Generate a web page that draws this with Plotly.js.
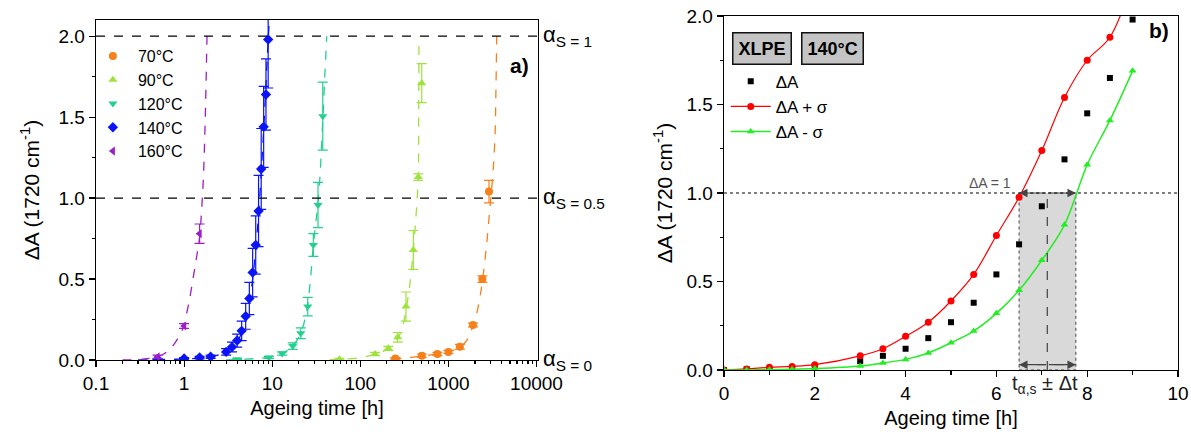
<!DOCTYPE html>
<html><head><meta charset="utf-8">
<script src="https://cdn.plot.ly/plotly-3.0.1.min.js"></script>
<style>html,body{margin:0;padding:0;background:#fff}#chart{width:1191px;height:436px}</style>
</head><body><div id="chart"></div>
<script>
// ---------- Panel a) : ΔA vs ageing time (log), five temperatures ----------
const labels = ['70°C','90°C','120°C','140°C','160°C'];
const t70 = [250,500,750,1000,1350,1900,2430,2890];
const a70 = [0.01,0.027,0.037,0.05,0.082,0.216,0.5,1.04];
const e70 = [0.005,0.01,0.01,0.01,0.015,0.012,0.02,0.07];
const t90 = [58,147,208,266,330,400,455,498];
const a90 = [0.005,0.037,0.072,0.14,0.33,0.68,1.13,1.71];
const e90 = [0.005,0.01,0.012,0.03,0.09,0.12,0.02,0.12];
const t120 = [4,9.2,13,17.1,21.1,25.3,29.3,33.1,37.5];
const a120 = [0.005,0.016,0.04,0.086,0.165,0.33,0.71,0.957,1.506];
const e120 = [0.004,0.006,0.01,0.02,0.033,0.057,0.07,0.14,0.21];
const t140 = [0.5,1,1.5,2,3,3.5,4,4.5,5,5.5,6,6.5,7,7.5,8,8.5,9];
const a140 = [0.004,0.01,0.015,0.02,0.05,0.08,0.12,0.18,0.27,0.38,0.54,0.71,0.92,1.18,1.44,1.64,1.98];
const e140 = [0.003,0.005,0.008,0.01,0.02,0.03,0.04,0.06,0.08,0.1,0.15,0.18,0.22,0.25,0.25,0.22,0.3];
const t160 = [0.5,1,1.5];
const a160 = [0.02,0.21,0.78];
const e160 = [0.01,0.015,0.06];

// fitted (dashed) curves
const f70t = [230,300,400,500,600,750,900,1000,1200,1350,1500,1700,1900,2100,2300,2450,2700,2950,3200,3380,3460,3535];
const f70a = [0.005,0.01,0.018,0.025,0.03,0.037,0.045,0.05,0.065,0.082,0.1,0.14,0.21,0.29,0.4,0.5,0.7,0.93,1.15,1.38,1.65,2.0];
const f90t = [45,60,100,150,210,270,300,330,360,400,430,455,460,463];
const f90a = [0.002,0.005,0.015,0.037,0.072,0.14,0.2,0.31,0.44,0.68,0.9,1.13,1.5,2.0];
const f120t = [3,5,7,9,11,13,15,17,19,21,23,25,27,29,31,33,35,37.5,39.5,41.6];
const f120a = [0,0.005,0.01,0.016,0.025,0.04,0.06,0.086,0.12,0.165,0.23,0.32,0.48,0.68,0.83,0.96,1.15,1.48,1.75,2.0];
const f140t = [0.3,0.5,0.7,1,1.5,2,2.5,3,3.5,4,4.5,5,5.5,6,6.5,7,7.5,8,8.5,9,9.3];
const f140a = [0,0.002,0.004,0.006,0.012,0.02,0.033,0.05,0.075,0.11,0.17,0.25,0.36,0.5,0.68,0.9,1.15,1.42,1.7,1.98,2.1];
const f160t = [0.2,0.3,0.4,0.5,0.6,0.7,0.82,0.9,1.0,1.07,1.15,1.27,1.4,1.5,1.57,1.65,1.73,1.82];
const f160a = [0,0.003,0.01,0.02,0.04,0.07,0.12,0.16,0.21,0.29,0.37,0.51,0.65,0.76,0.9,1.11,1.45,2.0];

// ---------- Panel b) : XLPE 140°C ----------
const tB = [0,0.5,1,1.5,2,3,3.5,4,4.5,5,5.5,6,6.5,7,7.5,8,8.5,9];
const dA = [0,0.004,0.006,0.01,0.02,0.05,0.08,0.12,0.18,0.27,0.38,0.54,0.71,0.925,1.19,1.45,1.65,1.98];
const dAp = [0,0.006,0.015,0.02,0.03,0.08,0.12,0.19,0.27,0.39,0.54,0.76,0.976,1.24,1.54,1.75,1.88,2.2];
const dAm = [0,0,0.002,0.004,0.008,0.023,0.04,0.06,0.096,0.154,0.22,0.32,0.45,0.62,0.82,1.16,1.41,1.69];
const tAlpha = 7.12, tLo = 6.5, tHi = 7.75;   // t_alpha,s and ±Δt band
const alphaLevels = [0,0.5,1];
const alphaY = [0,1,2];

const cols = ['#f7801a','#9ee23c','#22d18e','#0a14f5','#9c1ec8'];
const syms = ['circle','triangle-up','triangle-down','diamond','triangle-left'];
const T = [t70,t90,t120,t140,t160], A=[a70,a90,a120,a140,a160], E=[e70,e90,e120,e140,e160];
const FT = [f70t,f90t,f120t,f140t,f160t], FA=[f70a,f90a,f120a,f140a,f160a];

const data = [];
for (let i=0;i<5;i++){
  data.push({x:FT[i],y:FA[i],xaxis:'x',yaxis:'y',mode:'lines',showlegend:false,hoverinfo:'skip',
    line:{color:cols[i],width:1.3,dash:'dash',shape:'spline'}});
}
for (let i=0;i<5;i++){
  data.push({x:T[i],y:A[i],xaxis:'x',yaxis:'y',mode:'markers',name:labels[i],legend:'legend',
    marker:{color:cols[i],symbol:syms[i],size:8},
    error_y:{type:'data',array:E[i],visible:true,color:cols[i],thickness:1.2,width:5}});
}
data.push({x:tB,y:dA,xaxis:'x2',yaxis:'y2',mode:'markers',name:'ΔA',legend:'legend2',
  marker:{color:'#000',symbol:'square',size:6}});
data.push({x:tB,y:dAp,xaxis:'x2',yaxis:'y2',mode:'lines+markers',name:'ΔA + σ',legend:'legend2',
  line:{color:'#ff0000',width:1.2,shape:'spline'},marker:{color:'#ff0000',symbol:'circle',size:7}});
data.push({x:tB,y:dAm,xaxis:'x2',yaxis:'y2',mode:'lines+markers',name:'ΔA - σ',legend:'legend2',
  line:{color:'#22ee22',width:1.5,shape:'spline'},marker:{color:'#22ee22',symbol:'triangle-up',size:7}});

const minorLog = [];
for (let d=-1; d<4; d++) for (let k=2;k<10;k++) minorLog.push(k*Math.pow(10,d));

const FONT = 'Liberation Sans, Arial, sans-serif';
const axCommon = {showline:true,linecolor:'#000',linewidth:1.3,mirror:true,ticks:'outside',ticklen:6,tickwidth:1.2,
  tickcolor:'#000',showgrid:false,zeroline:false,tickfont:{size:19,color:'#000',family:FONT}};

const shapes = [];
alphaY.slice(1).forEach(v=>shapes.push({type:'line',xref:'x domain',yref:'y',x0:0,x1:1,y0:v,y1:v,
  line:{color:'#000',width:1.2,dash:'dash'}}));
shapes.push({type:'rect',xref:'x2',yref:'y2',x0:tLo,x1:tHi,y0:0,y1:1,layer:'below',
  fillcolor:'rgba(160,160,160,0.4)',line:{color:'#444',width:1,dash:'dot'}});
shapes.push({type:'line',xref:'x2 domain',yref:'y2',x0:0,x1:1,y0:1,y1:1,line:{color:'#000',width:1,dash:'dot'}});
shapes.push({type:'line',xref:'x2',yref:'y2',x0:tAlpha,x1:tAlpha,y0:0,y1:1,line:{color:'#222',width:1,dash:'dash'}});
shapes.push({type:'line',xref:'x2',yref:'y2',x0:tLo,x1:tHi,y0:0.03,y1:0.03,line:{color:'#444',width:1,dash:'dash'}});

const ann = [];
alphaLevels.forEach((lv,i)=>ann.push({xref:'x domain',yref:'y',x:1,y:alphaY[i],xanchor:'left',yanchor:'middle',xshift:3,
  showarrow:false,text:'α<sub>S = '+lv+'</sub>',font:{size:22,color:'#000',family:FONT}}));
ann.push({xref:'x domain',yref:'y',x:0.985,y:1.82,xanchor:'right',yanchor:'middle',showarrow:false,text:'<b>a)</b>',font:{size:21,color:'#000',family:FONT}});
ann.push({xref:'x2 domain',yref:'y2',x:0.985,y:1.92,xanchor:'right',yanchor:'middle',showarrow:false,text:'<b>b)</b>',font:{size:21,color:'#000',family:FONT}});
ann.push({xref:'x2 domain',yref:'y2 domain',x:0.018,y:0.955,xanchor:'left',yanchor:'top',showarrow:false,text:'<b>XLPE</b>',
  bgcolor:'#c4c4c4',bordercolor:'#111',borderwidth:1.5,borderpad:5,font:{size:18,color:'#000',family:FONT}});
ann.push({xref:'x2 domain',yref:'y2 domain',x:0.169,y:0.955,xanchor:'left',yanchor:'top',showarrow:false,text:'<b>140°C</b>',
  bgcolor:'#c4c4c4',bordercolor:'#111',borderwidth:1.5,borderpad:5,font:{size:18,color:'#000',family:FONT}});
ann.push({xref:'x2',yref:'y2',x:5.87,y:1,yanchor:'bottom',showarrow:false,text:'ΔA = 1',font:{size:14,color:'#555',family:FONT}});
// arrows
[[tLo,1],[tHi,1],[tLo,0.03],[tHi,0.03]].forEach(p=>ann.push({xref:'x2',yref:'y2',axref:'x2',ayref:'y2',x:p[0],y:p[1],ax:tAlpha,ay:p[1],
  text:'',showarrow:true,arrowhead:2,arrowsize:1.4,arrowwidth:1.2,arrowcolor:'#444',standoff:0}));
ann.push({xref:'x2',yref:'paper',x:tAlpha-0.05,y:-0.042,yanchor:'middle',showarrow:false,
  text:'t<sub>α,s</sub> ± Δt',font:{size:20,color:'#222',family:FONT}});

const layout = {
  width:1191,height:436,paper_bgcolor:'#fff',plot_bgcolor:'#fff',
  margin:{l:96,r:13,t:16,b:66},
  font:{family:FONT,color:'#000'},
  xaxis:Object.assign({},axCommon,{type:'log',range:[-1,4.017],domain:[0,0.4085],anchor:'y',
    tickmode:'array',tickvals:[0.1,1,10,100,1000,10000],ticktext:['0.1','1','10','100','1000','10000'],
    minor:{tickmode:'array',tickvals:minorLog,ticks:'outside',ticklen:3,tickcolor:'#000'},
    title:{text:'Ageing time [h]',font:{size:20,family:FONT},standoff:8}}),
  yaxis:Object.assign({},axCommon,{range:[0,2.1],domain:[0.02825,0.9887],anchor:'x',dtick:0.5,tick0:0,tickformat:'.1f',
    minor:{dtick:0.25,ticks:'outside',ticklen:3,tickcolor:'#000'},
    title:{text:'ΔA (1720 cm<sup>-1</sup>)',font:{size:21,family:FONT},standoff:13}}),
  xaxis2:Object.assign({},axCommon,{range:[0,10],domain:[0.5804,1],anchor:'y2',dtick:2,tick0:0,
    minor:{dtick:1,ticks:'outside',ticklen:4,tickcolor:'#000'},
    title:{text:'Ageing time [h]',font:{size:20,family:FONT},standoff:8}}),
  yaxis2:Object.assign({},axCommon,{range:[0,2.0],domain:[0,1],anchor:'x2',dtick:0.5,tick0:0,tickformat:'.1f',
    minor:{dtick:0.25,ticks:'outside',ticklen:3,tickcolor:'#000'},
    title:{text:'ΔA (1720 cm<sup>-1</sup>)',font:{size:21,family:FONT},standoff:8}}),
  legend:{x:-0.0075,y:0.935,xanchor:'left',yanchor:'top',bgcolor:'rgba(0,0,0,0)',font:{size:16,family:FONT},itemwidth:40,tracegroupgap:0},
  legend2:{x:0.582,y:0.865,xanchor:'left',yanchor:'top',bgcolor:'rgba(0,0,0,0)',font:{size:17,family:FONT},itemwidth:40},
  shapes:shapes, annotations:ann, showlegend:true
};
Plotly.newPlot('chart',data,layout,{displayModeBar:false,staticPlot:true});
</script></body></html>
